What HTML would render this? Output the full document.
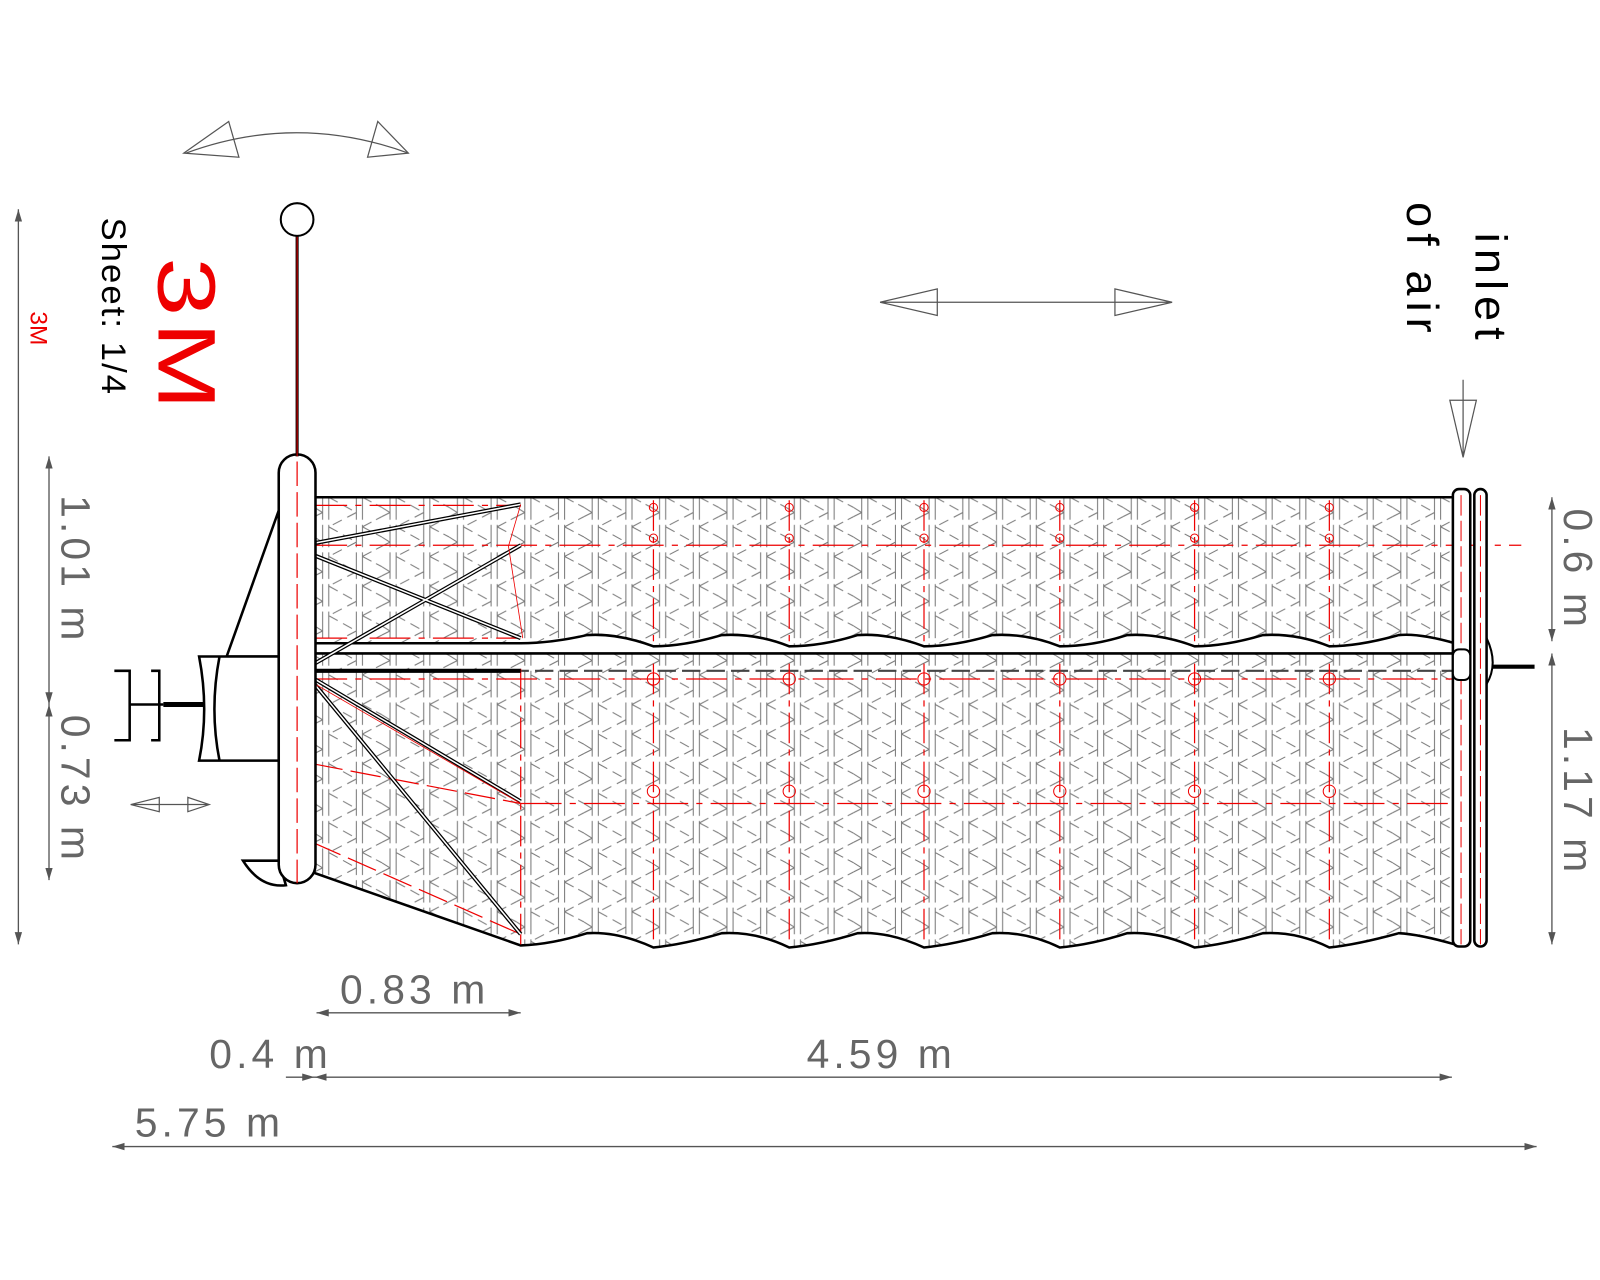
<!DOCTYPE html>
<html><head><style>html,body{margin:0;padding:0;background:#fff}svg{display:block}</style></head>
<body>
<svg width="1600" height="1280" viewBox="0 0 1600 1280" xmlns="http://www.w3.org/2000/svg" font-family="Liberation Sans, sans-serif">
<defs>
<pattern id="grid" x="308" y="487" width="66" height="58" patternUnits="userSpaceOnUse">
  <g stroke="#777" stroke-width="1" fill="none">
    <path d="M8 0V58M14 0V58M41 0V58M47 0V58" stroke-dasharray="22 5"/>
    <path d="M14 0L41 15M41 15L14 29M14 29L41 44M41 44L14 58" stroke-dasharray="10 6"/>
    <path d="M47 0L66 10M0 10L8 15M47 29L66 19M0 19L8 15M47 29L66 39M0 39L8 44M47 58L66 48M0 48L8 44" stroke-dasharray="10 5"/>
  </g>
</pattern>
<marker id="ar" viewBox="0 0 10 10" refX="10" refY="5" markerWidth="12" markerHeight="12" orient="auto-start-reverse" markerUnits="userSpaceOnUse"><path d="M0 2L10 5L0 8z" fill="#555"/></marker>
</defs>
<g transform="scale(1.021)">
<path d="M308 487H1425V630 Q1390 620 1370 622 Q1330 633 1302 633 Q1270 620 1237 622 Q1200 633 1170 633 Q1135 620 1104 622 Q1070 633 1038 633 Q1005 620 972 622 Q935 633 905 633 Q870 620 840 622 Q805 633 773 633 Q740 620 707 622 Q670 633 640 633 Q605 620 575 622 Q540 630 510 630 L308 630Z" fill="url(#grid)" stroke="#000" stroke-width="2.5"/>
<path d="M308 640H1425V925 Q1390 915 1370 914 Q1330 925 1302 928 Q1270 912 1237 914 Q1200 925 1170 928 Q1135 912 1104 914 Q1070 925 1038 928 Q1005 912 972 914 Q935 925 905 928 Q870 912 840 914 Q805 925 773 928 Q740 912 707 914 Q670 925 640 928 Q605 912 575 914 Q540 925 510 926 L308 855Z" fill="url(#grid)" stroke="#000" stroke-width="2.5"/>
<line x1="308" y1="657" x2="1425" y2="657" stroke="#444" stroke-width="2" stroke-dasharray="18 6"/>

<g stroke="#e00" stroke-width="1.2" fill="none">
  <path d="M300 534H1490M300 495H510M300 625H510M300 665H1425M510 787H1425" stroke-dasharray="40 8 6 8"/>
  <path d="M640 490V630M773 490V630M905 490V630M1038 490V630M1170 490V630M1302 490V630" stroke-dasharray="30 6 6 6"/>
  <path d="M640 650V925M773 650V925M905 650V925M1038 650V925M1170 650V925M1302 650V925M510 655V925" stroke-dasharray="30 6 6 6"/>
  <path d="M306 748L510 787M306 825L510 915" stroke-dasharray="30 8"/>
  <g stroke-width="1"><circle cx="640" cy="665" r="6"/><circle cx="773" cy="665" r="6"/><circle cx="905" cy="665" r="6"/><circle cx="1038" cy="665" r="6"/><circle cx="1170" cy="665" r="6"/><circle cx="1302" cy="665" r="6"/>
  <circle cx="640" cy="775" r="6"/><circle cx="773" cy="775" r="6"/><circle cx="905" cy="775" r="6"/><circle cx="1038" cy="775" r="6"/><circle cx="1170" cy="775" r="6"/><circle cx="1302" cy="775" r="6"/>
  <circle cx="640" cy="527" r="4"/><circle cx="773" cy="527" r="4"/><circle cx="905" cy="527" r="4"/><circle cx="1038" cy="527" r="4"/><circle cx="1170" cy="527" r="4"/><circle cx="1302" cy="527" r="4"/>
  <circle cx="640" cy="497" r="4"/><circle cx="773" cy="497" r="4"/><circle cx="905" cy="497" r="4"/><circle cx="1038" cy="497" r="4"/><circle cx="1170" cy="497" r="4"/><circle cx="1302" cy="497" r="4"/></g>
</g>

<g stroke="#000" stroke-width="4" fill="none">
  <path d="M308 532L510 494M308 544L510 625M308 650L510 534M308 657L510 657M308 665L510 785M308 670L510 915"/>
</g>
<g stroke="#fff" stroke-width="1.5" fill="none">
  <path d="M308 532L510 494M308 544L510 625M308 650L510 534M308 665L510 785M308 670L510 915"/>
</g>
<g stroke="#e00" stroke-width="0.8" fill="none">
  <path d="M510 494L498 535L512 625M300 665L510 787"/>
</g>

<rect x="1423" y="479" width="17" height="448" rx="6" fill="#fff" stroke="#000" stroke-width="2.5"/>
<rect x="1444" y="479" width="12" height="448" rx="6" fill="#fff" stroke="#000" stroke-width="2.5"/>
<path d="M1431 485V925M1450 485V925" stroke="#e00" stroke-dasharray="20 5" fill="none"/>
<rect x="1423" y="636" width="17" height="30" rx="6" fill="#fff" stroke="#000" stroke-width="2"/>
<path d="M1456 625 Q1468 650 1456 670" stroke="#000" stroke-width="2" fill="none"/>
<path d="M1462 653H1503" stroke="#000" stroke-width="4"/>

<g stroke="#000" stroke-width="2.5" fill="#fff">
  <path d="M273 500L222 643H273Z"/>
  <path d="M273 745L222 715H273Z"/>
  <path d="M273 843H238 Q255 870 280 867Z"/>
  <path d="M195 643H273V745H195 Q205 695 195 643Z"/>
  <path d="M215 643 Q205 695 215 745" fill="none"/>
  <rect x="273" y="445" width="36" height="420" rx="18"/>
</g>
<path d="M291 452V865" stroke="#e00" stroke-width="1.2" stroke-dasharray="24 6"/>
<path d="M160 690H200" stroke="#000" stroke-width="5"/>
<g stroke="#000" stroke-width="2.5" fill="none">
  <path d="M112 657H127V725H112M127 690H160M148 657H156V725H148"/>
</g>
<path d="M291 230V447" stroke="#000" stroke-width="3"/>
<path d="M291 215V447" stroke="#e00" stroke-width="1"/>
<circle cx="291" cy="215" r="16" fill="#fff" stroke="#000" stroke-width="2"/>

<g stroke="#555" stroke-width="1.2" fill="none">
  <path d="M182 150 Q290 110 400 150"/>
  <path d="M180 150L224 119L234 154Z M400 150L370 119L360 154Z"/>
  <path d="M862 296H1148M862 296L918 283V309Z M1148 296L1092 283V309Z"/>
  <path d="M128 788H205M128 788L156 781V795Z M205 788L184 781V795Z"/>
  <path d="M1433 372V445M1433 448L1420 392H1446Z"/>
</g>

<g stroke="#555" stroke-width="1.3" fill="none">
  <path d="M18 205V925" marker-start="url(#ar)" marker-end="url(#ar)"/>
  <path d="M48 447V690" marker-start="url(#ar)" marker-end="url(#ar)"/>
  <path d="M48 690V862" marker-start="url(#ar)" marker-end="url(#ar)"/>
  <path d="M1520 487V628" marker-start="url(#ar)" marker-end="url(#ar)"/>
  <path d="M1520 640V925" marker-start="url(#ar)" marker-end="url(#ar)"/>
  <path d="M310 992H510" marker-start="url(#ar)" marker-end="url(#ar)"/>
  <path d="M280 1055H308" marker-end="url(#ar)"/>
  <path d="M308 1055H1422" marker-start="url(#ar)" marker-end="url(#ar)"/>
  <path d="M110 1123H1505" marker-start="url(#ar)" marker-end="url(#ar)"/>
</g>

<g fill="#666" font-size="40" letter-spacing="4">
  <text x="333" y="983">0.83 m</text>
  <text x="205" y="1046">0.4 m</text>
  <text x="790" y="1046">4.59 m</text>
  <text x="132" y="1113">5.75 m</text>
  <text transform="translate(60 485) rotate(90)">1.01 m</text>
  <text transform="translate(60 700) rotate(90)">0.73 m</text>
  <text transform="translate(1532 498) rotate(90)">0.6 m</text>
  <text transform="translate(1532 712) rotate(90)">1.17 m</text>
</g>
<text transform="translate(30 305) rotate(90)" fill="#e00" font-size="24">3M</text>
<text transform="translate(100 213) rotate(90)" fill="#000" font-size="34" letter-spacing="2">Sheet: 1/4</text>
<text transform="translate(155 252) rotate(90) scale(1.3 1)" fill="#e00" font-size="80" letter-spacing="4">3M</text>
<text transform="translate(1445 228) rotate(90)" fill="#000" font-size="44" letter-spacing="6">inlet</text>
<text transform="translate(1378 198) rotate(90)" fill="#000" font-size="44" letter-spacing="6">of air</text>
</g>
</svg>
</body></html>
